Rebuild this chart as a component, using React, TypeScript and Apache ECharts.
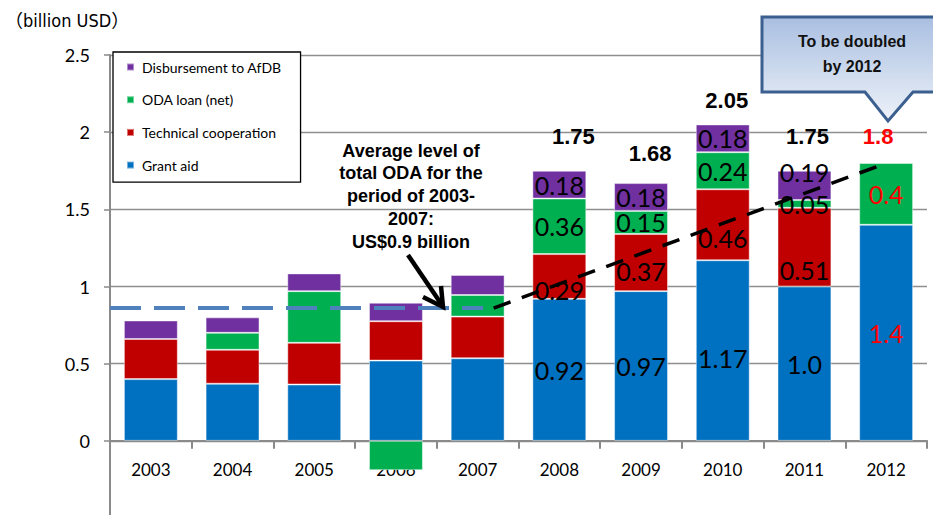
import React, { useEffect, useRef } from 'react';
import * as echarts from 'echarts';

// ---- data (billion USD) ----
const years = ['2003', '2004', '2005', '2006', '2007', '2008', '2009', '2010', '2011', '2012'];
const grantAid = [0.40, 0.37, 0.365, 0.52, 0.535, 0.92, 0.97, 1.17, 1.0, 1.4];
const technicalCooperation = [0.26, 0.22, 0.27, 0.255, 0.27, 0.29, 0.37, 0.46, 0.51, null];
const odaLoanNet = [null, 0.11, 0.335, -0.19, 0.14, 0.36, 0.15, 0.24, 0.05, 0.4];
const afdbDisbursement = [0.12, 0.10, 0.115, 0.12, 0.13, 0.18, 0.18, 0.18, 0.19, null];
const reportedTotals = [null, null, null, null, null, 1.75, 1.68, 2.05, 1.75, 1.8];
const firstLabelledYear = 5;
const targetYear = 9;
const averageLevel2003to2007 = 0.86;
const trendEndLevel = 1.78;
const yMin = -0.5;
const yMax = 2.5;
const yStep = 0.5;

const seriesNames = {
  grant: 'Grant aid',
  tech: 'Technical cooperation',
  loan: 'ODA loan (net)',
  afdb: 'Disbursement to AfDB',
};

// ---- styling only ----
const techNudge: Record<number, number> = { 5: 14, 6: 8, 7: 13, 8: 23 };
const afdbNudge: Record<number, number> = { 8: -13 };
const grantNudge: Record<number, number> = { 7: 7 };
const totalNudge: Record<number, number[]> = {
  5: [14, -23],
  6: [9, -19],
  7: [4, -13],
  8: [3, -23],
  9: [-8, -16],
};

const fmt = (v: number) => {
  const r = Math.round(v * 100) / 100;
  return Math.abs(r * 10 - Math.round(r * 10)) < 1e-9 ? r.toFixed(1) : r.toFixed(2);
};

const mkSeries = (name: string, values: (number | null)[], color: string, nudge: Record<number, number>) => ({
  name,
  type: 'bar',
  stack: 'oda',
  barCategoryGap: '34%',
  itemStyle: { color, borderColor: 'rgba(255,255,255,0.45)', borderWidth: 1 },
  label: { show: false, fontFamily: 'Lato', fontSize: 25 },
  data: values.map((v, i) =>
    v == null
      ? '-'
      : {
          value: v,
          label: {
            show: i >= firstLabelledYear,
            position: 'inside',
            formatter: fmt(v),
            color: i === targetYear ? '#ff0000' : '#000',
            offset: [0, nudge[i] || 0],
          },
        }
  ),
});

export default function App() {
  const ref = useRef<HTMLDivElement>(null);
  useEffect(() => {
    if (!ref.current) return;
    const chart = echarts.init(ref.current, undefined, { renderer: 'svg' });
    const option: any = {
      animation: false,
      textStyle: { fontFamily: 'Lato' },
      grid: { left: 110, top: 55, width: 817, height: 463, outerBoundsMode: 'none', containLabel: false },
      legend: {
        orient: 'vertical',
        left: 113,
        top: 52,
        data: [seriesNames.afdb, seriesNames.loan, seriesNames.tech, seriesNames.grant],
        backgroundColor: '#fff',
        borderColor: '#000',
        borderWidth: 1.3,
        padding: [8, 19, 10, 13],
        itemWidth: 7,
        itemHeight: 7,
        itemGap: 18.7,
        icon: 'rect',
        textStyle: { fontFamily: 'Lato', fontSize: 14, color: '#000', padding: [0, 0, 0, 3] },
      },
      xAxis: {
        type: 'category',
        data: years,
        position: 'bottom',
        offset: 0,
        axisLine: { onZero: false, lineStyle: { color: '#8a8a8a', width: 2 } },
        axisTick: { show: true, length: 8, lineStyle: { color: '#8a8a8a', width: 2 } },
        axisLabel: { fontFamily: 'Lato', fontSize: 17, color: '#000', margin: 20 },
      },
      yAxis: {
        type: 'value',
        min: yMin,
        max: yMax,
        interval: yStep,
        axisLine: { show: true, lineStyle: { color: '#8a8a8a', width: 2 } },
        axisTick: { show: true, length: 6, lineStyle: { color: '#8a8a8a', width: 1.5 } },
        axisLabel: {
          fontFamily: 'Lato',
          fontSize: 18,
          color: '#000',
          margin: 20,
          formatter: (v: number) => (v < 0 ? '' : String(v)),
        },
        splitLine: { show: true, lineStyle: { color: '#8e8e8e', width: 1.3 } },
      },
      series: [
        mkSeries(seriesNames.grant, grantAid, '#0070c0', grantNudge),
        mkSeries(seriesNames.tech, technicalCooperation, '#c00000', techNudge),
        mkSeries(seriesNames.loan, odaLoanNet, '#00b050', {}),
        mkSeries(seriesNames.afdb, afdbDisbursement, '#7030a0', afdbNudge),
        {
          name: 'Total',
          type: 'bar',
          stack: 'oda',
          silent: true,
          itemStyle: { color: 'rgba(0,0,0,0)' },
          label: { show: false, fontFamily: 'Liberation Sans, Arial', fontWeight: 'bold', fontSize: 22 },
          data: reportedTotals.map((t, i) =>
            t == null
              ? '-'
              : {
                  value: 0,
                  label: {
                    show: true,
                    position: 'top',
                    distance: 0,
                    formatter: fmt(t),
                    color: i === targetYear ? '#ff0000' : '#000',
                    offset: totalNudge[i] || [0, 0],
                  },
                }
          ),
        },
      ],
    };
    chart.setOption(option);

    const p = (i: number, v: number) => chart.convertToPixel({ gridIndex: 0 }, [i, v]) as number[];
    const zeroY = p(0, 0)[1];
    const bottomY = p(0, yMin)[1];
    const c0 = p(0, averageLevel2003to2007);
    const c1 = p(1, averageLevel2003to2007);
    const cw = c1[0] - c0[0];
    const avgEnd = p(4, averageLevel2003to2007);
    const trendEnd = p(targetYear, trendEndLevel);

    chart.setOption({
      xAxis: { offset: zeroY - bottomY },
      graphic: [
        {
          type: 'text',
          x: 5,
          y: 20,
          style: {
            text: '（billion USD）',
            font: '18px "DejaVu Sans Condensed", "Liberation Sans Narrow", Lato, "Noto Sans CJK JP"',
            fill: '#000',
            verticalAlign: 'middle',
          },
        },
        {
          type: 'line',
          z: 50,
          shape: { x1: c0[0] - cw / 2, y1: c0[1], x2: avgEnd[0] + 5.5, y2: avgEnd[1] },
          style: { stroke: '#4f81bd', lineWidth: 4, lineDash: [31, 13] },
        },
        {
          type: 'line',
          z: 50,
          shape: { x1: avgEnd[0] + 16, y1: avgEnd[1], x2: trendEnd[0] - 8, y2: trendEnd[1] },
          style: { stroke: '#000', lineWidth: 3.5, lineDash: [18, 12] },
        },
        {
          type: 'text',
          z: 50,
          x: 411,
          y: 196,
          style: {
            text: 'Average level of\ntotal ODA for the\nperiod of 2003-\n2007:\nUS$0.9 billion',
            font: 'bold 18px "Liberation Sans", Arial',
            lineHeight: 22.75,
            fill: '#000',
            align: 'center',
            verticalAlign: 'middle',
          },
        },
        {
          type: 'line',
          z: 50,
          shape: { x1: 408, y1: 255, x2: 442, y2: 305 },
          style: { stroke: '#000', lineWidth: 4.5 },
        },
        {
          type: 'polyline',
          z: 50,
          shape: { points: [[423, 297], [443, 307], [441, 286]] },
          style: { stroke: '#000', lineWidth: 4.5, fill: 'none' },
        },
        {
          type: 'polygon',
          z: 60,
          shape: {
            points: [[762, 17], [948, 17], [948, 92], [913, 92], [888, 121], [865, 92], [762, 92]],
          },
          style: {
            fill: {
              type: 'linear',
              x: 0,
              y: 0,
              x2: 0,
              y2: 1,
              colorStops: [
                { offset: 0, color: '#a9bfe1' },
                { offset: 1, color: '#eef2f9' },
              ],
            },
            stroke: '#3b5f8f',
            lineWidth: 3,
          },
        },
        {
          type: 'text',
          z: 61,
          x: 852,
          y: 54,
          style: {
            text: 'To be doubled\nby 2012',
            font: 'bold 16px "Liberation Sans", Arial',
            lineHeight: 25,
            fill: '#111',
            align: 'center',
            verticalAlign: 'middle',
          },
        },
      ],
    });

    return () => chart.dispose();
  }, []);

  return (
    <div
      ref={ref}
      style={{ position: 'fixed', left: 0, top: 0, width: 933, height: 515, background: '#fff' }}
    />
  );
}
